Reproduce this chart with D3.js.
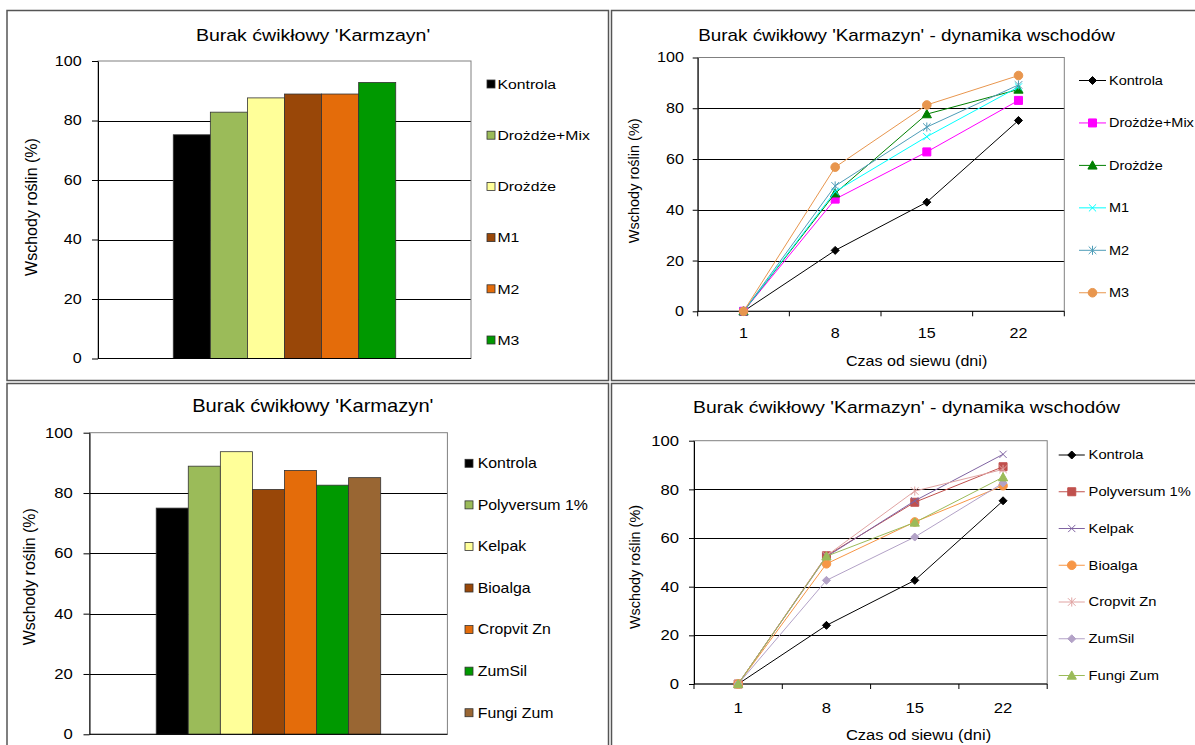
<!DOCTYPE html>
<html>
<head>
<meta charset="utf-8">
<script src="https://cdn.jsdelivr.net/npm/d3@7"></script>
<style>
  body { margin: 0; background: #fff; }
  text { fill: #000; }
</style>
</head>
<body>
<script>
// chart values
const yTicks = [0, 20, 40, 60, 80, 100];
const days = ["1", "8", "15", "22"];

const barNames1 = ["Kontrola", "Drożdże+Mix", "Drożdże", "M1", "M2", "M3"];
const barValues1 = [75.2, 82.8, 87.6, 88.9, 88.9, 92.8];
const barColors1 = ["#000000", "#9BBB59", "#FFFF99", "#994708", "#E46C0A", "#009900"];

const barNames2 = ["Kontrola", "Polyversum 1%", "Kelpak", "Bioalga", "Cropvit Zn", "ZumSil", "Fungi Zum"];
const barValues2 = [75.0, 88.9, 93.7, 81.2, 87.5, 82.6, 85.1];
const barColors2 = ["#000000", "#9BBB59", "#FFFF99", "#994708", "#E46C0A", "#009900", "#996633"];

const lineNames1 = ["Kontrola", "Drożdże+Mix", "Drożdże", "M1", "M2", "M3"];
const lineValues1 = [
    [0, 24.0, 43.0, 75.2],
    [0, 44.2, 62.8, 83.1],
    [0, 46.5, 77.7, 87.4],
    [0, 47.2, 68.8, 88.4],
    [0, 49.4, 72.6, 89.2],
    [0, 56.8, 81.3, 92.9]
];
const lineColors1 = ["#000000", "#FF00FF", "#008000", "#00FFFF", "#4F9DB8", "#E8964E"];
const lineMarkers1 = ["diamond", "square", "triangle", "x", "star", "circle"];

const lineNames2 = ["Kontrola", "Polyversum 1%", "Kelpak", "Bioalga", "Cropvit Zn", "ZumSil", "Fungi Zum"];
const lineValues2 = [
    [0, 24.1, 42.6, 75.3],
    [0, 52.7, 74.7, 89.3],
    [0, 52.3, 75.3, 94.4],
    [0, 49.4, 66.6, 81.5],
    [0, 52.7, 79.3, 88.2],
    [0, 42.6, 60.4, 82.6],
    [0, 52.5, 66.4, 85.0]
];
const lineColors2 = ["#000000", "#C0504D", "#8064A2", "#F79646", "#E0A3A2", "#B3A2C7", "#9BBB59"];
const lineMarkers2 = ["diamond", "square", "x", "circle", "star", "diamond", "triangle"];

// text in the reference is a bit wider than it is tall
const SX = 1.15;

const svg = d3.select("body").append("svg")
    .attr("width", 1195)
    .attr("height", 745)
    .style("font-family", "'Liberation Sans', Arial, sans-serif");

svg.append("rect").attr("width", 1195).attr("height", 745).attr("fill", "#fff");

// marker shapes, size = radius
const shapes = {
    diamond: {draw(c, r) { c.moveTo(0, -r); c.lineTo(r, 0); c.lineTo(0, r); c.lineTo(-r, 0); c.closePath(); }},
    square: {draw(c, r) { c.rect(-r, -r, 2 * r, 2 * r); }},
    triangle: {draw(c, r) { c.moveTo(0, -r); c.lineTo(r, r * 0.8); c.lineTo(-r, r * 0.8); c.closePath(); }},
    circle: {draw(c, r) { c.moveTo(r, 0); c.arc(0, 0, r, 0, 2 * Math.PI); }},
    x: {draw(c, r) { c.moveTo(-r, -r); c.lineTo(r, r); c.moveTo(-r, r); c.lineTo(r, -r); }},
    star: {draw(c, r) { c.moveTo(-r, -r); c.lineTo(r, r); c.moveTo(-r, r); c.lineTo(r, -r); c.moveTo(0, -r * 1.2); c.lineTo(0, r * 1.2); }}
};
const markerSize = {diamond: 4, square: 4, triangle: 4.6, circle: 4.3, x: 3.6, star: 3.8};
const strokeOnly = m => m === "x" || m === "star";

function addMarker(g, m, color, cx, cy) {
    g.append("path")
        .attr("d", d3.symbol().type(shapes[m]).size(markerSize[m])())
        .attr("transform", `translate(${cx},${cy})`)
        .attr("fill", strokeOnly(m) ? "none" : color)
        .attr("stroke", color)
        .attr("stroke-width", 1);
}

function txt(g, x, y, s, size, anchor) {
    return g.append("text")
        .attr("transform", `translate(${x},${y}) scale(${SX},1)`)
        .attr("dy", "0.35em")
        .attr("text-anchor", anchor || "start")
        .style("font-size", size + "px")
        .text(s);
}

function yLabel(g, x, y, size) {
    g.append("text")
        .attr("transform", `translate(${x},${y}) rotate(-90)`)
        .attr("dy", "0.35em")
        .attr("text-anchor", "middle")
        .style("font-size", size + "px")
        .text("Wschody roślin (%)");
}

function frame(x, y, w, h) {
    svg.append("rect")
        .attr("x", x).attr("y", y).attr("width", w).attr("height", h)
        .attr("fill", "none").attr("stroke", "#555").attr("stroke-width", 1.5);
}

function yAxis(g, c, y, tick) {
    const ax = g.append("g")
        .attr("transform", `translate(${c.left},0)`)
        .call(d3.axisLeft(y).tickValues(yTicks).tickSize(tick).tickSizeOuter(0)
            .tickPadding(c.tickOffset / SX - tick).tickFormat(d3.format("d")));
    ax.select(".domain").attr("stroke", "#000");
    ax.selectAll(".tick line").attr("stroke", "#000");
    ax.selectAll(".tick text")
        .attr("transform", `scale(${SX},1)`)
        .attr("fill", "#000")
        .style("font-size", c.tickFont + "px")
        .style("font-family", "'Liberation Sans', Arial, sans-serif");
}

function grid(g, c, y) {
    g.append("g").selectAll("line")
        .data(yTicks.slice(1, -1))
        .join("line")
        .attr("x1", c.left).attr("x2", c.right)
        .attr("y1", d => Math.round(y(d)) + 0.5).attr("y2", d => Math.round(y(d)) + 0.5)
        .attr("stroke", "#000");
    g.append("rect")
        .attr("x", c.left).attr("y", c.y100)
        .attr("width", c.right - c.left).attr("height", c.y0 - c.y100)
        .attr("fill", "none").attr("stroke", "#808080");
}

function barChart(c, names, values, colors) {
    const g = svg.append("g");
    const y = d3.scaleLinear().domain([0, 100]).range([c.y0, c.y100]);
    const x = d3.scaleBand().domain(names).range([c.left, c.right]).paddingInner(0).paddingOuter(c.pad);

    grid(g, c, y);

    g.selectAll(".bar")
        .data(names)
        .join("rect")
        .attr("x", d => x(d))
        .attr("y", (d, i) => y(values[i]))
        .attr("width", x.bandwidth())
        .attr("height", (d, i) => y(0) - y(values[i]))
        .attr("fill", (d, i) => colors[i])
        .attr("stroke", "#333")
        .attr("stroke-width", 0.8);

    yAxis(g, c, y, 6);
    g.append("line")
        .attr("x1", c.left).attr("x2", c.right)
        .attr("y1", c.y0).attr("y2", c.y0)
        .attr("stroke", "#000");

    txt(g, c.titleX, c.titleY, c.title, c.titleSize, "middle");
    yLabel(g, c.ylabX, c.ylabY, c.ylabSize);

    // legend
    names.forEach((n, i) => {
        const ly = c.legY0 + i * c.legDy;
        g.append("rect")
            .attr("x", c.legSq).attr("y", ly - 4)
            .attr("width", 8).attr("height", 8)
            .attr("fill", colors[i]).attr("stroke", "#333").attr("stroke-width", 0.8);
        txt(g, c.legTx, ly, n, c.legFont);
    });
}

function lineChart(c, names, values, colors, markers) {
    const g = svg.append("g");
    const y = d3.scaleLinear().domain([0, 100]).range([c.y0, c.y100]);
    const x = d3.scaleBand().domain(days).range([c.left, c.right]);
    const cx = d => x(d) + x.bandwidth() / 2;

    grid(g, c, y);
    yAxis(g, c, y, 5);

    // category axis with ticks between categories
    g.append("line")
        .attr("x1", c.left).attr("x2", c.right)
        .attr("y1", c.y0).attr("y2", c.y0)
        .attr("stroke", "#000");
    g.selectAll(".xt")
        .data(d3.range(days.length + 1))
        .join("line")
        .attr("x1", i => c.left + i * x.step()).attr("x2", i => c.left + i * x.step())
        .attr("y1", c.y0).attr("y2", c.y0 + 5)
        .attr("stroke", "#000");
    days.forEach(d => txt(g, cx(d), c.xLabY, d, c.tickFont, "middle"));

    const line = d3.line().x((v, i) => cx(days[i])).y(v => y(v));
    values.forEach((vals, s) => {
        g.append("path")
            .attr("d", line(vals))
            .attr("fill", "none")
            .attr("stroke", colors[s])
            .attr("stroke-width", 1);
        vals.forEach((v, i) => addMarker(g, markers[s], colors[s], cx(days[i]), y(v)));
    });

    txt(g, c.titleX, c.titleY, "Burak ćwikłowy 'Karmazyn' - dynamika wschodów", c.titleSize, "middle");
    txt(g, c.xTitleX, c.xTitleY, "Czas od siewu (dni)", c.xTitleSize, "middle");
    yLabel(g, c.ylabX, c.ylabY, c.ylabSize);

    // legend
    names.forEach((n, i) => {
        const ly = c.legY0 + i * c.legDy;
        g.append("line")
            .attr("x1", c.legL).attr("x2", c.legR)
            .attr("y1", ly).attr("y2", ly)
            .attr("stroke", colors[i]);
        addMarker(g, markers[i], colors[i], (c.legL + c.legR) / 2, ly);
        txt(g, c.legTx, ly, n, c.legFont);
    });
}

// panel frames
frame(7, 10.5, 601.5, 370);
frame(611.5, 10.5, 600, 370);
frame(7, 383.5, 601.5, 400);
frame(611.5, 383.5, 600, 400);

barChart({
    left: 98, right: 471, y100: 61, y0: 358.5, pad: 2.03,
    tickOffset: 16.3, tickFont: 14,
    title: "Burak ćwikłowy 'Karmzayn'", titleX: 313, titleY: 35.5, titleSize: 17,
    ylabX: 31.5, ylabY: 207, ylabSize: 16,
    legSq: 487, legTx: 497.5, legY0: 84, legDy: 51.2, legFont: 13.7
}, barNames1, barValues1, barColors1);

barChart({
    left: 89.5, right: 447.4, y100: 432.7, y0: 734.3, pad: 2.08,
    tickOffset: 16.8, tickFont: 14.5,
    title: "Burak ćwikłowy 'Karmazyn'", titleX: 312.8, titleY: 406, titleSize: 17.5,
    ylabX: 29.7, ylabY: 576.7, ylabSize: 15.9,
    legSq: 465, legTx: 477.7, legY0: 463.3, legDy: 41.57, legFont: 13.8
}, barNames2, barValues2, barColors2);

lineChart({
    left: 697.7, right: 1064.3, y100: 57.5, y0: 311.3,
    tickOffset: 13.8, tickFont: 14, xLabY: 333,
    xTitleX: 916.6, xTitleY: 360.7, xTitleSize: 14,
    titleX: 906.5, titleY: 35, titleSize: 16.4,
    ylabX: 634.3, ylabY: 180.8, ylabSize: 14.5,
    legL: 1079, legR: 1106, legTx: 1109, legY0: 80.5, legDy: 42.45, legFont: 12.6
}, lineNames1, lineValues1, lineColors1, lineMarkers1);

lineChart({
    left: 694, right: 1047.2, y100: 440.7, y0: 684,
    tickOffset: 15, tickFont: 14.5, xLabY: 708.3,
    xTitleX: 918.5, xTitleY: 735, xTitleSize: 14.4,
    titleX: 906.5, titleY: 406.7, titleSize: 16.8,
    ylabX: 634.8, ylabY: 567, ylabSize: 14.4,
    legL: 1058.7, legR: 1084.8, legTx: 1088.6, legY0: 455, legDy: 36.75, legFont: 12.8
}, lineNames2, lineValues2, lineColors2, lineMarkers2);
</script>
</body>
</html>
